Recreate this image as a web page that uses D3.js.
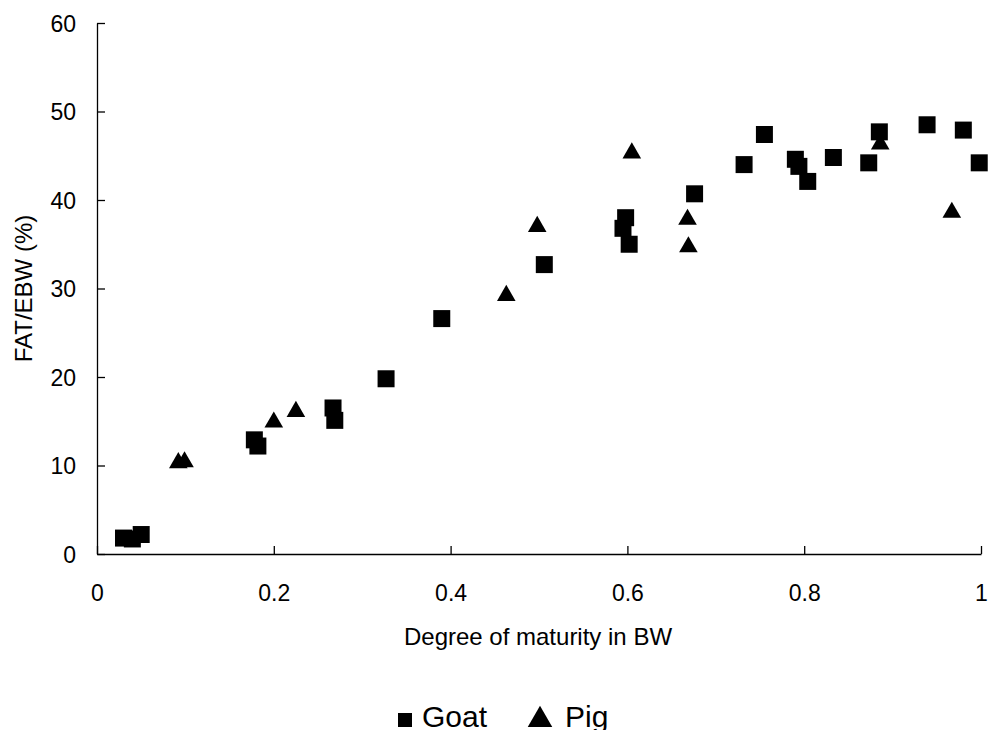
<!DOCTYPE html>
<html>
<head>
<meta charset="utf-8">
<script src="https://cdn.jsdelivr.net/npm/d3@7"></script>
<style>
  body { margin: 0; background: #fff; }
  svg text { font-family: 'Liberation Sans', Arial, sans-serif; fill: #000; }
</style>
</head>
<body>
<div id="chart"></div>
<script>
const W = 988, H = 730;
const margin = {left: 97, right: 7, top: 23, bottom: 176};

// Goat (squares)
const goatX = [0.03, 0.04, 0.05, 0.178, 0.182, 0.267, 0.269, 0.327, 0.390, 0.506, 0.595, 0.598, 0.602, 0.676, 0.732, 0.755, 0.790, 0.794, 0.804, 0.833, 0.873, 0.885, 0.939, 0.980, 0.998];
const goatY = [1.8, 1.7, 2.2, 12.9, 12.2, 16.5, 15.1, 19.8, 26.6, 32.7, 36.8, 38.0, 35.0, 40.7, 44.0, 47.4, 44.6, 43.8, 42.1, 44.8, 44.2, 47.7, 48.5, 47.9, 44.2];
// Pig (triangles)
const pigX = [0.092, 0.099, 0.200, 0.225, 0.463, 0.498, 0.605, 0.668, 0.669, 0.886, 0.967];
const pigY = [10.3, 10.4, 14.9, 16.1, 29.2, 37.0, 45.3, 37.8, 34.7, 46.3, 38.6];

const xTicks = [0, 0.2, 0.4, 0.6, 0.8, 1];
const yTicks = [0, 10, 20, 30, 40, 50, 60];

const svg = d3.select("#chart").append("svg")
    .attr("width", W).attr("height", H);

const x = d3.scaleLinear().domain([0, 1]).range([margin.left, W - margin.right]);
const y = d3.scaleLinear().domain([0, 60]).range([H - margin.bottom, margin.top]);

// axes, ticks pointing inward
const xAxis = d3.axisBottom(x).tickValues(xTicks)
    .tickFormat(d => d3.format("")(d)).tickSizeInner(-8).tickSizeOuter(0);
const yAxis = d3.axisLeft(y).tickValues(yTicks)
    .tickSizeInner(-8).tickSizeOuter(0).tickPadding(21);

const gx = svg.append("g").attr("transform", `translate(0,${y(0)})`).call(xAxis);
const gy = svg.append("g").attr("transform", `translate(${x(0)},0)`).call(yAxis);
[gx, gy].forEach(g => {
    g.select(".domain").attr("stroke", "#000").attr("stroke-width", 1.3);
    g.selectAll(".tick line").attr("stroke", "#000").attr("stroke-width", 1.3);
    g.selectAll(".tick text").style("font-size", "23px")
        .style("font-family", "'Liberation Sans', Arial, sans-serif").attr("fill", "#000");
});
gx.selectAll(".tick text").attr("dy", null).attr("y", 47);
gy.selectAll(".tick text").attr("dy", "0.36em");

// axis titles
svg.append("text")
    .attr("x", 538).attr("y", 645)
    .attr("text-anchor", "middle").style("font-size", "24px")
    .text("Degree of maturity in BW");
svg.append("text")
    .attr("transform", `translate(32,${(y(0) + y(60)) / 2}) rotate(-90)`)
    .attr("text-anchor", "middle").style("font-size", "24px")
    .text("FAT/EBW (%)");

// points
const square = d3.symbol().type(d3.symbolSquare).size(17 * 17);
const triangle = d3.symbol().type(d3.symbolTriangle).size(150);

svg.append("g").selectAll("path")
    .data(goatX.map((d, i) => [d, goatY[i]]))
    .join("path")
    .attr("d", square)
    .attr("transform", d => `translate(${x(d[0])},${y(d[1])})`)
    .attr("fill", "#000");

svg.append("g").selectAll("path")
    .data(pigX.map((d, i) => [d, pigY[i]]))
    .join("path")
    .attr("d", triangle)
    .attr("transform", d => `translate(${x(d[0])},${y(d[1])})`)
    .attr("fill", "#000");

// legend
const legend = svg.append("g");
legend.append("path").attr("d", d3.symbol().type(d3.symbolSquare).size(14 * 14))
    .attr("transform", "translate(405,720)").attr("fill", "#000");
legend.append("text").attr("x", 422).attr("y", 727).style("font-size", "30px").text("Goat");
legend.append("path").attr("d", d3.symbol().type(d3.symbolTriangle).size(260))
    .attr("transform", "translate(540,720)").attr("fill", "#000");
legend.append("text").attr("x", 565).attr("y", 727).style("font-size", "30px").text("Pig");
</script>
</body>
</html>
